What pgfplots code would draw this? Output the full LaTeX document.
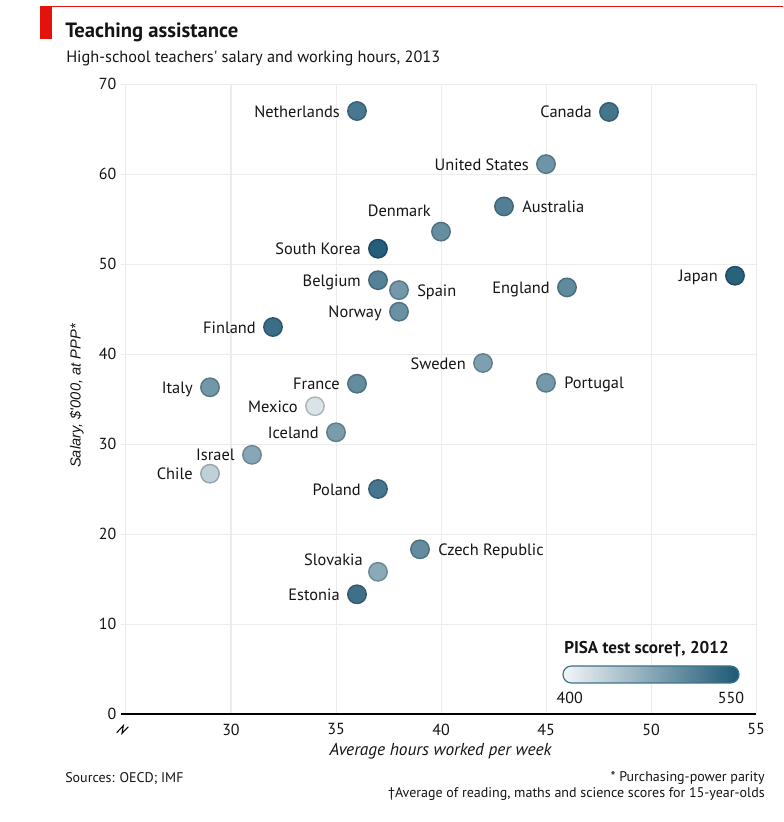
\documentclass[border=0pt]{standalone}
\usepackage{fontspec}
\setmainfont{PT Sans}[Ligatures=TeXOff]
\newfontfamily\ylabfont{Liberation Sans}[Ligatures=TeXOff]
\usepackage{pgfplots}
\usepackage{pgfplotstable}
\pgfplotsset{compat=1.18}
\definecolor{ecored}{RGB}{227,18,11}
\definecolor{low}{RGB}{242,246,247}
\definecolor{high}{RGB}{29,88,117}
\definecolor{gridc}{RGB}{236,236,236}
\definecolor{txt}{RGB}{20,20,20}

% labels to the left of the point
\pgfplotstableread[col sep=comma]{
x,y,pisa,label
36,67.0,519,Netherlands
48,66.9,522,Canada
45,61.1,492,United States
37,51.7,543,South Korea
54,48.7,540,Japan
37,48.2,510,Belgium
46,47.4,502,England
38,44.7,496,Norway
32,43.0,529,Finland
42,39.0,482,Sweden
29,36.3,490,Italy
36,36.7,500,France
34,34.2,417,Mexico
35,31.3,485,Iceland
31,28.8,474,Israel
29,26.7,436,Chile
37,25.0,521,Poland
36,13.3,526,Estonia
}\lefttable
% labels to the right of the point
\pgfplotstableread[col sep=comma]{
x,y,pisa,label
43,56.4,512,Australia
38,47.1,489,Spain
45,36.8,488,Portugal
39,18.3,500,Czech Republic
}\righttable
% labels above-left
\pgfplotstableread[col sep=comma]{
x,y,pisa,label
40,53.6,498,Denmark
}\dktable
\pgfplotstableread[col sep=comma]{
x,y,pisa,label
37,15.8,472,Slovakia
}\sktable

\pgfplotsset{
  dot/.style={scatter, only marks, mark=*, mark size=6.9pt, line width=1.1pt,
    scatter/use mapped color={draw=mapped color!80!black, fill=mapped color},
    point meta=explicit},
  lab/.style={only marks, mark=none, point meta=explicit symbolic,
    nodes near coords,
    nodes near coords style={inner sep=0pt, text=txt, font=\fontsize{12.3}{14}\selectfont, #1}},
}

\begin{document}
\begin{tikzpicture}
\useasboundingbox (-94.5pt,-81pt) rectangle (492.75pt,535.5pt);
\begin{axis}[
  at={(0,0)}, anchor=south west,
  scale only axis, width=472.5pt, height=472.5pt,
  xmin=25, xmax=55, ymin=0, ymax=70,
  xtick={25,30,...,55}, xticklabels={,30,35,40,45,50,55},
  ytick={0,10,...,70},
  grid=major, major grid style={gridc, line width=0.75pt},
  axis x line*=bottom, axis y line*=left,
  y axis line style={draw=none},
  x axis line style={black, line width=0.9pt, shorten <=-3.75pt},
  x tick style={draw=none},
  y tick style={draw=gridc, line width=0.75pt},
  tick align=outside, major tick length=3.75pt,
  tick label style={font=\fontsize{12}{14}\selectfont, text=txt},
  /pgf/number format/assume math mode=true,
  colormap={eco}{rgb255(0cm)=(242,246,247); rgb255(1cm)=(29,88,117)},
  point meta min=400, point meta max=550,
  clip=false,
]
\addplot[dot] table[x=x, y=y, meta=pisa]{\lefttable};
\addplot[dot] table[x=x, y=y, meta=pisa]{\righttable};
\addplot[dot] table[x=x, y=y, meta=pisa]{\dktable};
\addplot[dot] table[x=x, y=y, meta=pisa]{\sktable};
\addplot[lab={anchor=mid east, xshift=-12.75pt, yshift=-2pt}] table[x=x, y=y, meta=label]{\lefttable};
\addplot[lab={anchor=mid west, xshift=13.5pt, yshift=-2pt}] table[x=x, y=y, meta=label]{\righttable};
\addplot[lab={anchor=mid east, xshift=-7.5pt, yshift=14pt}] table[x=x, y=y, meta=label]{\dktable};
\addplot[lab={anchor=mid east, xshift=-11.25pt, yshift=7pt}] table[x=x, y=y, meta=label]{\sktable};
\end{axis}
% axis break glyph
\draw[black, line width=0.8pt] (-7pt,-14pt) -- (-2pt,-8.75pt) -- (-3pt,-14.5pt) -- (1.75pt,-9.5pt);
% header
\fill[ecored] (-64.5pt,531pt) rectangle (-55.5pt,506.25pt);
\draw[ecored, line width=1pt] (-64.5pt,530.6pt) -- (492.75pt,530.6pt);
\node[anchor=base west, inner sep=0pt, text=txt, font=\bfseries\fontsize{15.5}{18}\selectfont] at (-45.75pt,507.5pt) {Teaching assistance};
\node[anchor=base west, inner sep=0pt, text=txt, font=\fontsize{12.25}{14}\selectfont] at (-45pt,488.5pt) {High-school teachers' salary and working hours, 2013};
% axis labels
\node[rotate=90, inner sep=0pt, text=txt, font=\ylabfont\itshape\fontsize{11}{13}\selectfont] at (-36.9pt,238.5pt) {Salary, \$'000, at PPP*};
\node[anchor=base, inner sep=0pt, text=txt, font=\itshape\fontsize{13}{15}\selectfont] at (235.9pt,-30.75pt) {Average hours worked per week};
% footer
\node[anchor=base west, inner sep=0pt, text=txt, font=\fontsize{10.5}{12}\selectfont] at (-45.75pt,-51pt) {Sources: OECD; IMF};
\node[anchor=base east, inner sep=0pt, text=txt, font=\fontsize{10.5}{12}\selectfont] at (479.25pt,-50.25pt) {* Purchasing-power parity};
\node[anchor=base east, inner sep=0pt, text=txt, font=\fontsize{10.5}{12}\selectfont] at (479.25pt,-62.25pt) {†Average of reading, maths and science scores for 15-year-olds};
% colour legend
\node[anchor=base west, inner sep=0pt, text=txt, font=\bfseries\fontsize{12.8}{15}\selectfont] at (328.5pt,45.5pt) {PISA test score†, 2012};
\shadedraw[left color=low, right color=high, draw=high!85!white, line width=0.9pt, rounded corners=6.3pt] (327.75pt,23.25pt) rectangle (459.75pt,36pt);
\node[anchor=base, inner sep=0pt, text=txt, font=\fontsize{12}{14}\selectfont] at (332.8pt,8pt) {400};
\node[anchor=base, inner sep=0pt, text=txt, font=\fontsize{12}{14}\selectfont] at (453.75pt,8pt) {550};
\end{tikzpicture}
\end{document}
